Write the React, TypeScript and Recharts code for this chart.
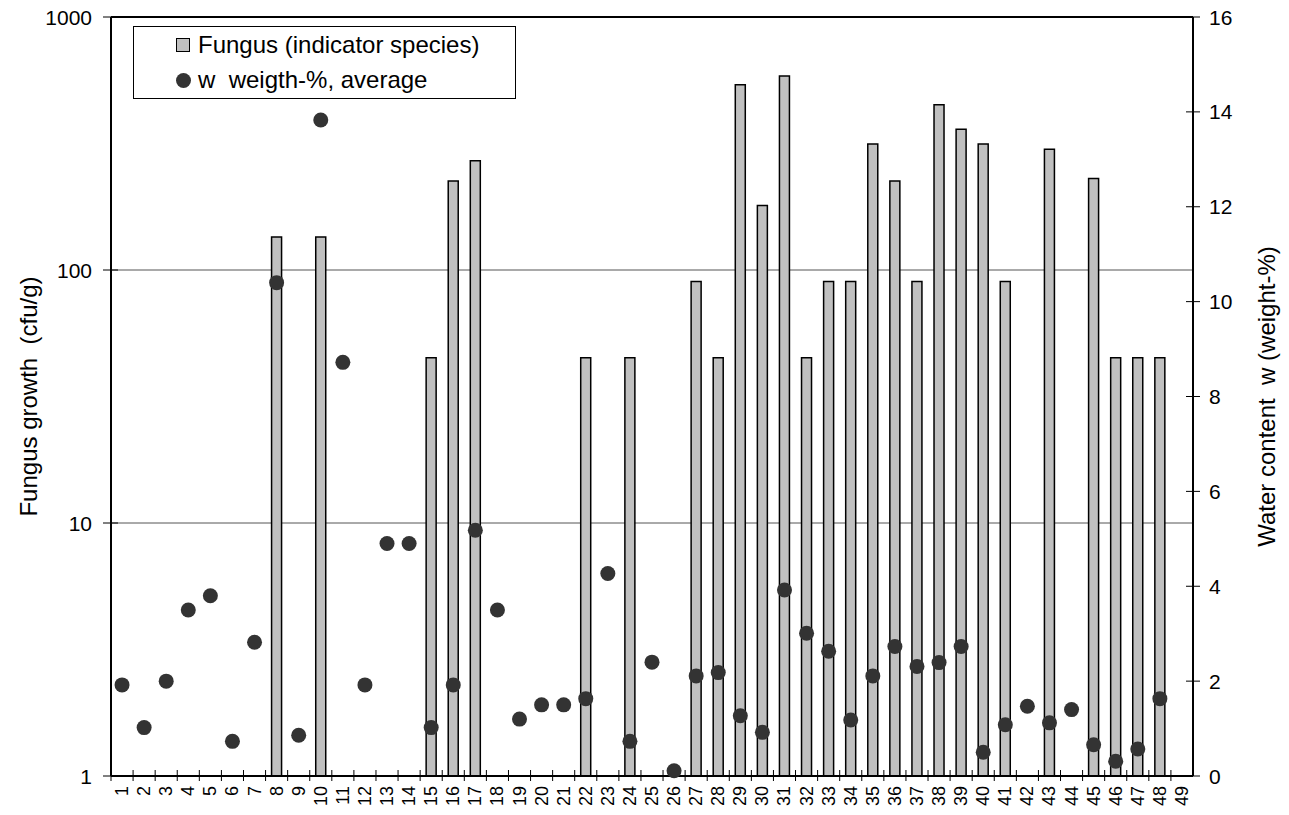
import React from "react";
import {
  ComposedChart,
  Bar,
  Line,
  XAxis,
  YAxis,
  CartesianGrid,
  ReferenceLine,
} from "recharts";

const categories = [
  "1", "2", "3", "4", "5", "6", "7", "8", "9", "10",
  "11", "12", "13", "14", "15", "16", "17", "18", "19", "20",
  "21", "22", "23", "24", "25", "26", "27", "28", "29", "30",
  "31", "32", "33", "34", "35", "36", "37", "38", "39", "40",
  "41", "42", "43", "44", "45", "46", "47", "48", "49",
];

// fungus growth, cfu/g (log axis), null = no growth
const fungus = [
  null, null, null, null, null, null, null, 135, null, 135,
  null, null, null, null, 45, 225, 270, null, null, null,
  null, 45, null, 45, null, null, 90, 45, 540, 180,
  585, 45, 90, 90, 315, 225, 90, 450, 360, 315,
  90, null, 300, null, 230, 45, 45, 45, null,
];

// water content, weight-%
const water = [
  1.92, 1.02, 2.0, 3.5, 3.8, 0.73, 2.82, 10.4, 0.86, 13.83,
  8.72, 1.92, 4.9, 4.9, 1.02, 1.92, 5.18, 3.5, 1.2, 1.5,
  1.5, 1.63, 4.27, 0.73, 2.4, 0.11, 2.11, 2.18, 1.27, 0.92,
  3.92, 3.01, 2.63, 1.18, 2.11, 2.73, 2.31, 2.39, 2.73, 0.5,
  1.08, 1.47, 1.12, 1.4, 0.66, 0.31, 0.57, 1.63, null,
];

const leftTicks = [1, 10, 100, 1000];
const rightTicks = [0, 2, 4, 6, 8, 10, 12, 14, 16];

const data = categories.map((n, i) => ({ n, fungus: fungus[i], w: water[i] }));

const W = 1289;
const H = 815;
const LEFT_W = 111;
const RIGHT_W = 96;
const X_H = 39;
const BAND = (W - LEFT_W - RIGHT_W) / categories.length;
const FONT = '"Liberation Sans", Arial, sans-serif';

const XTick = ({ x, y, payload }: any) => (
  <g>
    <line x1={x - BAND / 2} x2={x - BAND / 2} y1={y - 6} y2={y + 5} stroke="#000" strokeWidth={1} />
    <text
      x={x}
      y={y + 10}
      transform={`rotate(-90, ${x}, ${y + 10})`}
      textAnchor="end"
      dominantBaseline="central"
      fontSize={18}
      fontFamily={FONT}
      fill="#000"
    >
      {payload.value}
    </text>
  </g>
);

const LeftTick = ({ x, y, payload }: any) => (
  <g>
    <line x1={x - 8} x2={x + 7} y1={y} y2={y} stroke="#000" strokeWidth={1} />
    <text x={x - 19} y={y} textAnchor="end" dominantBaseline="central" fontSize={21} fontFamily={FONT} fill="#000">
      {payload.value}
    </text>
  </g>
);

const RightTick = ({ x, y, payload }: any) => (
  <g>
    <line x1={x - 7} x2={x + 7} y1={y} y2={y} stroke="#000" strokeWidth={1} />
    <text x={x + 16} y={y} textAnchor="start" dominantBaseline="central" fontSize={21} fontFamily={FONT} fill="#000">
      {payload.value}
    </text>
  </g>
);

const AxisTitle = ({ viewBox, value, dx }: any) => {
  const cx = viewBox.x + dx;
  const cy = viewBox.y + viewBox.height / 2;
  return (
    <text
      x={cx}
      y={cy}
      transform={`rotate(-90, ${cx}, ${cy})`}
      textAnchor="middle"
      dominantBaseline="central"
      fontSize={24}
      fontFamily={FONT}
      fill="#000"
    >
      {value}
    </text>
  );
};

const Dot = (props: any) => {
  const { cx, cy, value, index } = props;
  if (value == null || cy == null) return <g key={index} />;
  return <circle key={index} cx={cx} cy={cy} r={7.5} fill="#333" stroke="none" />;
};

export default function App() {
  return (
    <div style={{ position: "absolute", left: 0, top: 0, width: W, height: H, background: "#fff" }}>
      <ComposedChart width={W} height={H} data={data} margin={{ top: 17, right: 0, bottom: 0, left: 0 }}>
        <CartesianGrid yAxisId="left" vertical={false} stroke="#555" strokeWidth={1} />
        <XAxis
          dataKey="n"
          interval={0}
          height={X_H}
          tickSize={0}
          tickMargin={0}
          tickLine={false}
          tick={<XTick />}
          axisLine={{ stroke: "#000", strokeWidth: 2 }}
        />
        <YAxis
          yAxisId="left"
          scale="log"
          domain={[1, 1000]}
          ticks={leftTicks}
          allowDataOverflow
          width={LEFT_W}
          tickSize={0}
          tickMargin={0}
          tickLine={false}
          tick={<LeftTick />}
          axisLine={{ stroke: "#000", strokeWidth: 2 }}
          label={<AxisTitle value={"Fungus growth\u00A0 (cfu/g)"} dx={28} />}
        />
        <YAxis
          yAxisId="right"
          orientation="right"
          domain={[0, 16]}
          ticks={rightTicks}
          width={RIGHT_W}
          tickSize={0}
          tickMargin={0}
          tickLine={false}
          tick={<RightTick />}
          axisLine={{ stroke: "#000", strokeWidth: 2 }}
          label={<AxisTitle value={"Water content\u00A0 w (weight-%)"} dx={73} />}
        />
        <Bar
          yAxisId="left"
          dataKey="fungus"
          barSize={10}
          fill="#c0c0c0"
          stroke="#000"
          strokeWidth={1.5}
          isAnimationActive={false}
        />
        <Line
          yAxisId="right"
          dataKey="w"
          stroke="none"
          dot={<Dot />}
          activeDot={false}
          isAnimationActive={false}
        />
        <ReferenceLine yAxisId="left" y={1000} stroke="#000" strokeWidth={2} />
      </ComposedChart>

      <div
        style={{
          position: "absolute",
          left: 133,
          top: 26,
          width: 383,
          height: 73,
          boxSizing: "border-box",
          border: "1px solid #000",
          background: "#fff",
          fontFamily: FONT,
          fontSize: 24,
          color: "#000",
        }}
      >
        <div style={{ position: "absolute", left: 42, top: 11, width: 14, height: 14, boxSizing: "border-box", background: "#c0c0c0", border: "1px solid #000" }} />
        <div style={{ position: "absolute", left: 64, top: 4, lineHeight: "28px", whiteSpace: "nowrap" }}>
          Fungus (indicator species)
        </div>
        <div style={{ position: "absolute", left: 42, top: 46, width: 15, height: 15, borderRadius: "50%", background: "#333" }} />
        <div style={{ position: "absolute", left: 64, top: 39, lineHeight: "28px", whiteSpace: "nowrap" }}>
          w&nbsp; weigth-%, average
        </div>
      </div>
    </div>
  );
}
